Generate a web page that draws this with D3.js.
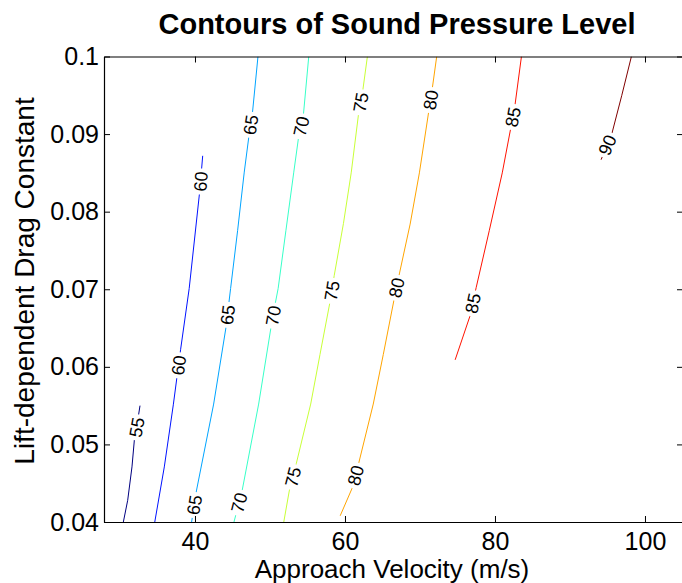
<!DOCTYPE html>
<html><head><meta charset="utf-8">
<script src="https://cdn.jsdelivr.net/npm/d3@7"></script>
<style>
body{margin:0;background:#fff}
svg{display:block}
text{font-family:Arial,"Liberation Sans",Helvetica,sans-serif;fill:#000}
</style>
</head><body>
<svg id="chart" width="682" height="583"></svg>
<script>
// ---- data (approach velocity m/s, lift-dependent drag constant) ----
const levels = [55, 60, 65, 70, 75, 80, 85, 90];

const contour55 = [[30.45,0.04],[31.03,0.0428],[31.6,0.0471],[31.93,0.0507],[32.27,0.0525],[32.67,0.055]];
const contour60 = [[34.64,0.04],[35.91,0.0471],[37.11,0.0551],[38.08,0.0622],[39.23,0.0701],[40.63,0.0826],[41.03,0.0872]];
const contour65 = [[39.55,0.04],[40.19,0.044],[42.49,0.0552],[44.12,0.065],[44.75,0.0701],[45.69,0.0776],[46.57,0.0851],[47.16,0.0895],[47.65,0.0926],[48.4,0.1]];
const contour70 = [[45.2,0.04],[46.28,0.044],[48.49,0.0552],[50.12,0.065],[50.71,0.0682],[51.09,0.0701],[52.13,0.0776],[53.16,0.085],[53.8,0.0895],[54.44,0.0923],[55.17,0.1]];
const contour75 = [[51.84,0.04],[52.57,0.044],[53.5,0.0475],[55.43,0.0552],[56.67,0.0616],[57.97,0.0682],[58.57,0.0718],[59.8,0.0785],[60.83,0.085],[61.81,0.0926],[62.4,0.0958],[62.99,0.1]];
const contour80 = [[59.36,0.0408],[60.93,0.0443],[61.81,0.0475],[63.77,0.0552],[65.11,0.0616],[66.57,0.0688],[67.21,0.0718],[68.69,0.0784],[69.92,0.085],[71.15,0.0928],[71.63,0.0958],[72.23,0.1]];
const contour85 = [[74.69,0.0609],[76.65,0.0665],[77.49,0.0702],[79.25,0.0776],[80.97,0.085],[82.07,0.0906],[82.65,0.0936],[83.53,0.1]];
const contour90 = [[94.15,0.0867],[95.57,0.09],[96.91,0.095],[98.19,0.1]];

const contourLines = [contour55, contour60, contour65, contour70, contour75, contour80, contour85, contour90];

// drag-constant positions of the inline level labels
const labelK55 = [0.0522];
const labelK60 = [0.0839, 0.0602];
const labelK65 = [0.0912, 0.0667, 0.0422];
const labelK70 = [0.0910, 0.0666, 0.0425];
const labelK75 = [0.0941, 0.0698, 0.0458];
const labelK80 = [0.0944, 0.0702, 0.0460];
const labelK85 = [0.0922, 0.0682];
const labelK90 = [0.0886];
const labelKs = [labelK55, labelK60, labelK65, labelK70, labelK75, labelK80, labelK85, labelK90];

const xTicks = [40, 60, 80, 100];
const xTickLabels = ["40", "60", "80", "100"];
const yTicks = [0.04, 0.05, 0.06, 0.07, 0.08, 0.09, 0.1];
const yTickLabels = ["0.04", "0.05", "0.06", "0.07", "0.08", "0.09", "0.1"];

const titleText = "Contours of Sound Pressure Level";
const xLabel = "Approach Velocity (m/s)";
const yLabel = "Lift-dependent Drag Constant";

// ---- layout ----
const svg = d3.select("#chart");
const L = 104, R = 683, T = 56.5, B = 522;
const x = d3.scaleLinear().domain([27.87, 105.07]).range([L, R]);
const y = d3.scaleLinear().domain([0.04, 0.1]).range([B, T]);

function jet(t) {
  const c = v => Math.max(0, Math.min(1, v));
  const r = c(Math.min(4*t - 1.5, -4*t + 4.5));
  const g = c(Math.min(4*t - 0.5, -4*t + 3.5));
  const b = c(Math.min(4*t + 0.5, -4*t + 2.5));
  return d3.rgb(r*255, g*255, b*255).toString();
}
const colorT = d3.scaleLinear().domain([d3.min(levels), d3.max(levels)]).range([0, 1]);
const color = lv => jet(colorT(lv));

svg.append("defs").append("clipPath").attr("id", "clip")
  .append("rect").attr("x", L).attr("y", T).attr("width", R - L).attr("height", B - T);

const line = d3.line().x(d => x(d[0])).y(d => y(d[1]));
const plot = svg.append("g").attr("clip-path", "url(#clip)");

plot.selectAll("path.contour").data(contourLines).join("path")
  .attr("class", "contour")
  .attr("d", line)
  .attr("fill", "none")
  .attr("stroke", (d, i) => color(levels[i]))
  .attr("stroke-width", 1);

// inline labels
function placeOnLine(pts, k) {
  for (let i = 0; i < pts.length - 1; i++) {
    const a = pts[i], b = pts[i+1];
    if ((k - a[1]) * (k - b[1]) <= 0) {
      const f = (k - a[1]) / (b[1] - a[1]);
      const v = a[0] + f * (b[0] - a[0]);
      const ang = Math.atan2(y(b[1]) - y(a[1]), x(b[0]) - x(a[0])) * 180 / Math.PI;
      return {v, k, ang};
    }
  }
  return null;
}
const labelData = [];
levels.forEach((lv, i) => {
  labelKs[i].forEach(k => {
    const p = placeOnLine(contourLines[i], k);
    if (p) labelData.push({level: lv, ...p});
  });
});
const lg = plot.selectAll("g.lbl").data(labelData).join("g")
  .attr("class", "lbl")
  .attr("transform", d => `translate(${x(d.v)},${y(d.k)}) rotate(${d.ang})`);
lg.append("rect").attr("fill", "#fff");
const lt = lg.append("text")
  .attr("text-anchor", "middle")
  .attr("dy", "0.36em")
  .style("font-size", "18px")
  .text(d => String(d.level));
lt.each(function() {
  const w = this.getComputedTextLength();
  d3.select(this.parentNode).select("rect")
    .attr("x", -w/2 - 3).attr("y", -6).attr("width", w + 6).attr("height", 12);
});

// ---- axes ----
const fs = "25px";
const axB = svg.append("g").attr("transform", `translate(0,${B})`)
  .call(d3.axisBottom(x).tickValues(xTicks).tickFormat((d, i) => xTickLabels[i])
    .tickSize(-6).tickSizeOuter(0).tickPadding(10));
const axT = svg.append("g").attr("transform", `translate(0,${T})`)
  .call(d3.axisTop(x).tickValues(xTicks).tickFormat("").tickSize(-6).tickSizeOuter(0));
const axL = svg.append("g").attr("transform", `translate(${L},0)`)
  .call(d3.axisLeft(y).tickValues(yTicks).tickFormat((d, i) => yTickLabels[i])
    .tickSize(-6).tickSizeOuter(0).tickPadding(5));
const axR = svg.append("g").attr("transform", `translate(${R},0)`)
  .call(d3.axisRight(y).tickValues(yTicks).tickFormat("").tickSize(-6).tickSizeOuter(0));
[axB, axT, axL, axR].forEach(a => {
  a.select(".domain").attr("stroke", "#000").attr("stroke-width", 1.2);
  a.selectAll(".tick line").attr("stroke", "#000");
  a.selectAll("text").style("font-size", fs).attr("fill", "#000")
    .style("font-family", 'Arial,"Liberation Sans",Helvetica,sans-serif');
});

// ---- titles ----
svg.append("text").attr("x", 397).attr("y", 34).attr("text-anchor", "middle")
  .style("font-size", "29px").style("font-weight", "bold").text(titleText);
svg.append("text").attr("x", 392).attr("y", 578).attr("text-anchor", "middle")
  .style("font-size", "26px").text(xLabel);
svg.append("text").attr("transform", "translate(34,281) rotate(-90)").attr("text-anchor", "middle")
  .style("font-size", "28px").text(yLabel);
</script>
</body></html>
